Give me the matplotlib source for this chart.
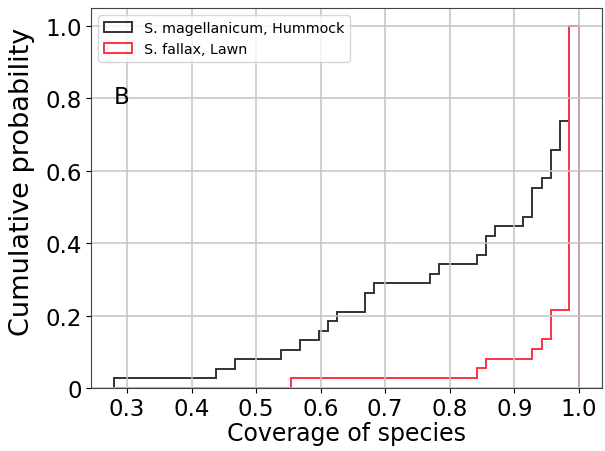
import matplotlib
matplotlib.use("Agg")
import matplotlib.pyplot as plt
import numpy as np

# Coverage of species per sample
hummock_magellanicum = [
    0.28, 0.44, 0.47, 0.54, 0.57, 0.60, 0.62, 0.63, 0.67, 0.68,
    0.69, 0.775, 0.79, 0.85, 0.86, 0.865, 0.875, 0.92, 0.93, 0.935,
    0.94, 0.95, 0.96, 0.965, 0.97, 0.975, 0.98, 0.985, 0.99, 0.99,
    0.995, 0.995, 1.0, 1.0, 1.0, 1.0, 1.0, 1.0,
]
lawn_fallax = [0.56, 0.85, 0.86, 0.935, 0.95, 0.96, 0.965, 0.97] + [1.0] * 29

series_labels = ["S. magellanicum, Hummock", "S. fallax, Lawn"]
series_colors = ["#333333", "#ff3344"]
yticks = [0, 0.2, 0.4, 0.6, 0.8, 1.0]
ytick_labels = ["0", "0.2", "0.4", "0.6", "0.8", "1.0"]
xticks = [0.3, 0.4, 0.5, 0.6, 0.7, 0.8, 0.9, 1.0]

fig = plt.figure(figsize=(6.05, 4.52), dpi=100)
ax = fig.add_axes([91 / 605, 1 - 389 / 452, (602 - 91) / 605, (389 - 9) / 452])

for data, lab, col in zip([hummock_magellanicum, lawn_fallax], series_labels, series_colors):
    ax.hist(data, bins=50, range=(0.28, 1.0), cumulative=True, density=True,
            histtype="step", color=col, linewidth=1.4, label=lab, zorder=1)

ax.grid(True, color="#c4c4c4", linewidth=1.1, zorder=1.5)
ax.set_axisbelow("line")
ax.set_yticks(yticks)
ax.set_yticklabels(ytick_labels)
ax.set_xticks(xticks)
ax.set_xticklabels([f"{t:.1f}" for t in xticks])
ax.tick_params(labelsize=16.5, pad=3)
ax.set_xlabel("Coverage of species", fontsize=17, labelpad=1)
ax.set_ylabel("Cumulative probability", fontsize=19.5)
ax.yaxis.set_label_coords(-0.11, 0.545)
ax.text(0.279, 0.805, "B", fontsize=16.5, va="center", ha="left")
ax.legend(loc="upper left", fontsize=10.3, handlelength=2.0, borderaxespad=0.5)
for s in ax.spines.values():
    s.set_color("#444444")

fig.savefig("out.png", dpi=100)
